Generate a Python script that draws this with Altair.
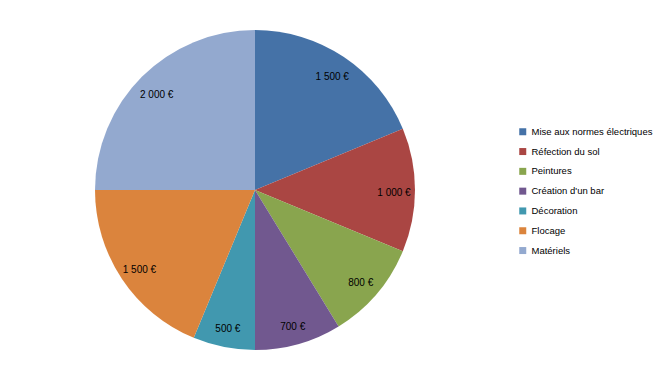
import altair as alt
import pandas as pd

categories = ["Mise aux normes électriques", "Réfection du sol", "Peintures",
              "Création d'un bar", "Décoration", "Flocage", "Matériels"]
values = [1500, 1000, 800, 700, 500, 1500, 2000]
labels = ["1 500 €", "1 000 €", "800 €", "700 €", "500 €", "1 500 €", "2 000 €"]
colors = ["#4572A7", "#AA4643", "#89A54E", "#71588F", "#4198AF", "#DB843D", "#93A9CF"]

df = pd.DataFrame({"cat": categories, "value": values, "label": labels,
                   "order": list(range(len(categories)))})

cx, cy = 247, 182

base = alt.Chart(df).encode(
    theta=alt.Theta("value:Q", stack=True),
    order=alt.Order("order:Q"),
)

arc = base.mark_arc(outerRadius=160).encode(
    x=alt.value(cx), y=alt.value(cy),
    color=alt.Color("cat:N", sort=categories,
                    scale=alt.Scale(domain=categories, range=colors),
                    legend=alt.Legend(title=None, orient="none", legendX=510, legendY=119,
                                      symbolType="square", symbolSize=49,
                                      symbolStrokeWidth=0, labelOffset=4,
                                      labelFont="Liberation Sans", labelFontSize=9.5,
                                      labelColor="#000000", rowPadding=8.8,
                                      labelLimit=300)),
)

text = base.mark_text(radius=139, dy=3, fontSize=10, font="Liberation Sans",
                      color="#000000").encode(
    x=alt.value(cx), y=alt.value(cy), text="label:N"
)

chart = (arc + text).properties(
    width=647, height=364, padding=0,
    autosize=alt.AutoSizeParams(type="none")
).configure_view(stroke=None)

chart.save("out.html", embed_options={"renderer": "svg", "actions": False})
